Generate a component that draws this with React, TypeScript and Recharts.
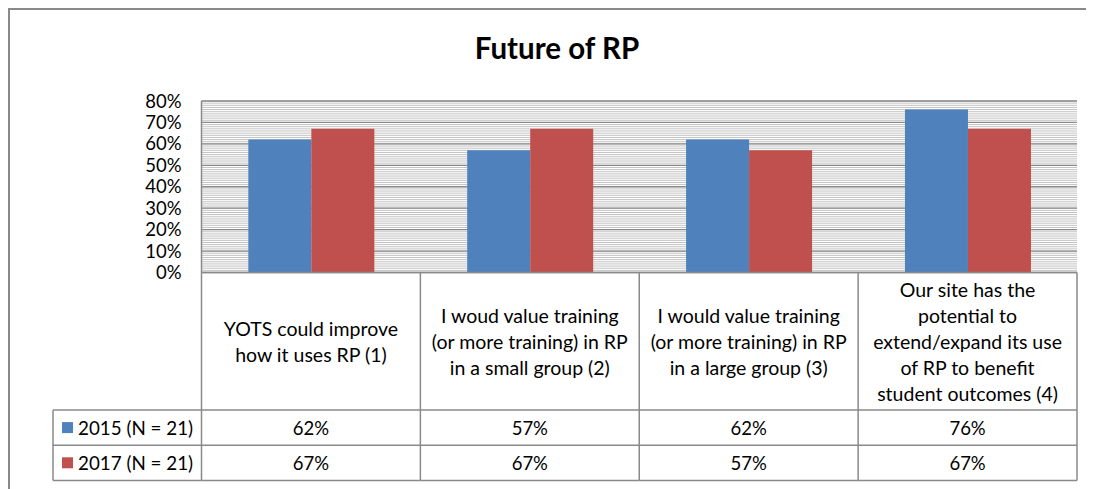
import React from "react";
import { Bar, BarChart, CartesianGrid, XAxis, YAxis } from "recharts";

// data
const categories = [
  "YOTS could improve\nhow it uses RP (1)",
  "I woud value training\n(or more training) in RP\nin a small group (2)",
  "I would value training\n(or more training) in RP\nin a large group (3)",
  "Our site has the\npotential to\nextend/expand its use\nof RP to benefit\nstudent outcomes (4)",
];
const series2015 = [0.62, 0.57, 0.62, 0.76];
const series2017 = [0.67, 0.67, 0.57, 0.67];
const seriesNames = ["2015 (N = 21)", "2017 (N = 21)"];
const yTicks = [0, 0.1, 0.2, 0.3, 0.4, 0.5, 0.6, 0.7, 0.8];
// minor gridlines every 1%
const minorTicks = Array.from({ length: 81 }, (_, i) => i / 100);

const BLUE = "#4F81BD";
const RED = "#C0504D";
const BORDER = "#8a8a8a";
const FONT = "Lato, sans-serif";

const CHART_W = 1086;
const CHART_H = 481;
const MARGIN = { top: 93, right: 17, left: 0, bottom: 0 };
const Y_AXIS_W = 193.5;
const X_AXIS_H = 216.5;
const COL_W = (CHART_W - MARGIN.right - Y_AXIS_W) / categories.length;
const CAT_ROW_H = 137.5;
const VAL_ROW_H = 35.2;
const LEGEND_W = 148.5;
const LINE_H = 26;

const data = categories.map((c, i) => ({
  name: c,
  y2015: series2015[i],
  y2017: series2017[i],
}));

const pct = (v: number) => `${Math.round(v * 100)}%`;

function TableTick(props: any) {
  const { x, y, index } = props;
  const left = x - COL_W / 2;
  const right = x + COL_W / 2;
  const lines = categories[index].split("\n");
  const mid = y + CAT_ROW_H / 2;
  const r1 = y + CAT_ROW_H;
  const r2 = r1 + VAL_ROW_H;
  const r3 = r2 + VAL_ROW_H;
  const txt = { fontFamily: FONT, fill: "#000" };
  const lineProps = { stroke: BORDER, strokeWidth: 1.5 };
  return (
    <g>
      <line x1={right} y1={y} x2={right} y2={r3} {...lineProps} />
      <line x1={left} y1={r1} x2={right} y2={r1} {...lineProps} />
      <line x1={left} y1={r2} x2={right} y2={r2} {...lineProps} />
      <line x1={left} y1={r3} x2={right} y2={r3} {...lineProps} />
      {lines.map((l, i) => (
        <text
          key={i}
          x={x}
          y={mid + (i - (lines.length - 1) / 2) * LINE_H}
          textAnchor="middle"
          dominantBaseline="central"
          fontSize={19.5}
          {...txt}
        >
          {l}
        </text>
      ))}
      <text x={x} y={r1 + VAL_ROW_H / 2} textAnchor="middle" dominantBaseline="central" fontSize={18.5} {...txt}>
        {pct(series2015[index])}
      </text>
      <text x={x} y={r2 + VAL_ROW_H / 2} textAnchor="middle" dominantBaseline="central" fontSize={18.5} {...txt}>
        {pct(series2017[index])}
      </text>
      {index === 0 && (
        <g>
          <line x1={left} y1={y} x2={left} y2={r3} {...lineProps} />
          <line x1={left - LEGEND_W} y1={r1} x2={left} y2={r1} {...lineProps} />
          <line x1={left - LEGEND_W} y1={r2} x2={left} y2={r2} {...lineProps} />
          <line x1={left - LEGEND_W} y1={r3} x2={left} y2={r3} {...lineProps} />
          <line x1={left - LEGEND_W} y1={r1} x2={left - LEGEND_W} y2={r3} {...lineProps} />
          {[BLUE, RED].map((c, i) => {
            const cy = r1 + VAL_ROW_H * i + VAL_ROW_H / 2;
            return (
              <g key={c}>
                <rect x={left - LEGEND_W + 9} y={cy - 5.5} width={11} height={11} fill={c} />
                <text x={left - LEGEND_W + 25} y={cy} dominantBaseline="central" fontSize={18.8} {...txt}>
                  {seriesNames[i]}
                </text>
              </g>
            );
          })}
        </g>
      )}
    </g>
  );
}

export default function App() {
  return (
    <div style={{ position: "relative", width: CHART_W, height: CHART_H }}>
      <div
        style={{
          position: "absolute",
          left: 0,
          top: 0,
          width: CHART_W,
          height: CHART_H,
          borderLeft: `2px solid ${BORDER}`,
          borderTop: `2px solid ${BORDER}`,
          boxSizing: "border-box",
        }}
      />
      <div
        style={{
          position: "absolute",
          left: 0,
          top: 25,
          width: 1098,
          textAlign: "center",
          fontFamily: FONT,
          fontWeight: 700,
          fontSize: 29.5,
          lineHeight: "29.5px",
          color: "#000",
        }}
      >
        Future of RP
      </div>
      <div style={{ position: "absolute", left: 0, top: 0 }}>
        <BarChart
          width={CHART_W}
          height={CHART_H}
          data={data}
          margin={MARGIN}
          barGap={0}
          barCategoryGap="21.4%"
        >
          <CartesianGrid vertical={false} horizontalValues={minorTicks} stroke="#c2c2c2" />
          <CartesianGrid vertical={false} stroke={BORDER} strokeWidth={1.3} />
          <XAxis
            dataKey="name"
            height={X_AXIS_H}
            axisLine={{ stroke: BORDER, strokeWidth: 1.5 }}
            tickLine={false}
            tickSize={0}
            tickMargin={0}
            interval={0}
            tick={<TableTick />}
          />
          <YAxis
            width={Y_AXIS_W}
            domain={[0, 0.8]}
            ticks={yTicks}
            interval={0}
            tickFormatter={pct}
            axisLine={{ stroke: BORDER, strokeWidth: 1.5 }}
            tickLine={false}
            tickSize={0}
            tickMargin={20}
            tick={{ fontSize: 18.5, fontFamily: FONT, fill: "#000" }}
          />
          <YAxis
            yAxisId="frame"
            orientation="right"
            width={0}
            domain={[0, 0.8]}
            tick={false}
            tickLine={false}
            axisLine={{ stroke: BORDER, strokeWidth: 1.5 }}
          />
          <Bar dataKey="y2015" fill={BLUE} isAnimationActive={false} />
          <Bar dataKey="y2017" fill={RED} isAnimationActive={false} />
        </BarChart>
      </div>
    </div>
  );
}
